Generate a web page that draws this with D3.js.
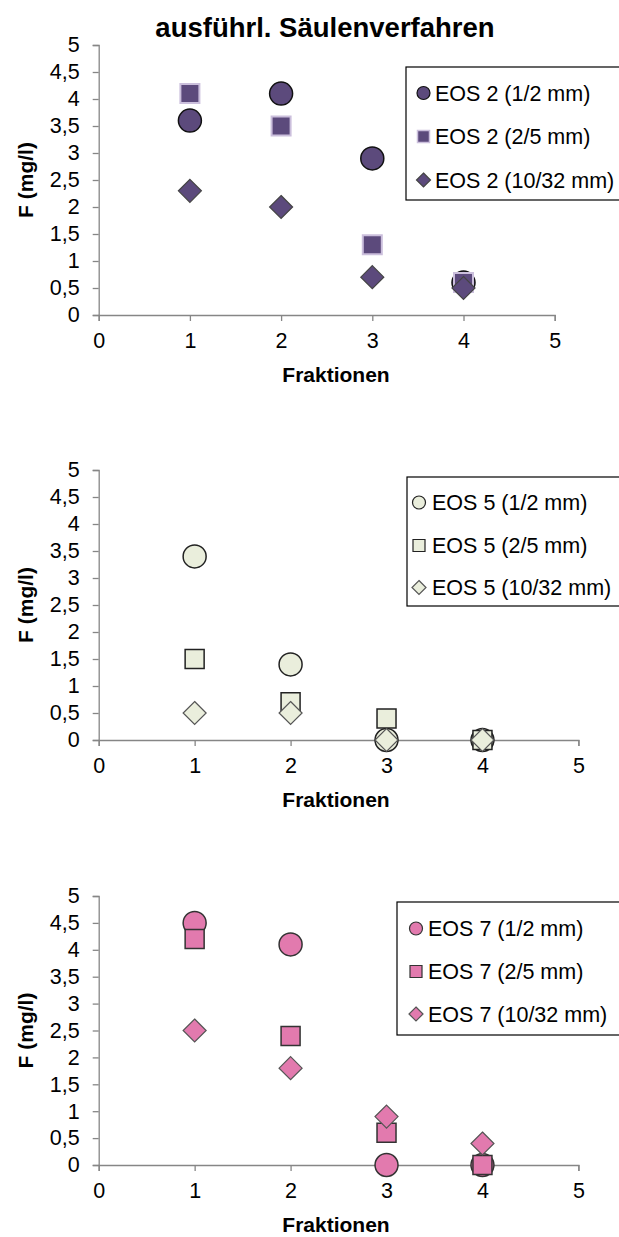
<!DOCTYPE html>
<html>
<head>
<meta charset="utf-8">
<script src="https://cdn.jsdelivr.net/npm/d3@7"></script>
<style>
  html, body { margin: 0; padding: 0; background: #fff; }
  svg { display: block; font-family: "Liberation Sans", Arial, sans-serif; }
</style>
</head>
<body>
<svg id="chart" width="619" height="1237"></svg>
<script>
// Fraction numbers on the x axis
const fractions = [1, 2, 3, 4];
const xTickValues = [0, 1, 2, 3, 4, 5];
const yTickValues = [0, 0.5, 1, 1.5, 2, 2.5, 3, 3.5, 4, 4.5, 5];

// Grain-size classes (legend suffixes)
const grainSizes = ["(1/2 mm)", "(2/5 mm)", "(10/32 mm)"];

// Fluoride concentration F (mg/l) per fraction — EOS 2
const eos2_1_2 = [3.6, 4.1, 2.9, 0.6];
const eos2_2_5 = [4.1, 3.5, 1.3, 0.6];
const eos2_10_32 = [2.3, 2.0, 0.7, 0.5];

// EOS 5
const eos5_1_2 = [3.4, 1.4, 0, 0];
const eos5_2_5 = [1.5, 0.7, 0.4, 0];
const eos5_10_32 = [0.5, 0.5, 0, 0];

// EOS 7
const eos7_1_2 = [4.5, 4.1, 0, 0];
const eos7_2_5 = [4.2, 2.4, 0.6, 0];
const eos7_10_32 = [2.5, 1.8, 0.9, 0.4];

const svg = d3.select("#chart");
const axisColor = "#868686";

svg.append("text")
  .attr("x", 325).attr("y", 37)
  .attr("text-anchor", "middle")
  .attr("font-weight", "bold")
  .attr("font-size", 27.5)
  .text("ausführl. Säulenverfahren");

const panels = [
  {
    name: "EOS 2",
    series: [eos2_1_2, eos2_2_5, eos2_10_32],
    left: 98.7, right: 554.7, top: 45, bottom: 315,
    fill: "#5c4a7c",
    strokes: ["#111", "#cbbfdc", "#444"],
    strokeWidths: [1.5, 2, 1.2],
    legend: { x: 406, y: 67, h: 133, rows: [93, 136.5, 180], mx: 423.5, tx: 435 }
  },
  {
    name: "EOS 5",
    series: [eos5_1_2, eos5_2_5, eos5_10_32],
    left: 98.7, right: 578.4, top: 470, bottom: 740,
    fill: "#eaeedc",
    strokes: ["#222", "#222", "#555"],
    strokeWidths: [1.5, 1.5, 1.2],
    legend: { x: 407, y: 477, h: 129, rows: [502.5, 545.5, 587.5], mx: 419, tx: 432 }
  },
  {
    name: "EOS 7",
    series: [eos7_1_2, eos7_2_5, eos7_10_32],
    left: 98.7, right: 578.4, top: 896, bottom: 1165,
    fill: "#e27aae",
    strokes: ["#333", "#333", "#555"],
    strokeWidths: [1.5, 1.5, 1.2],
    legend: { x: 397, y: 902, h: 133, rows: [928.5, 971.5, 1014], mx: 416, tx: 428 }
  }
];

// Marker shapes: circle, square, diamond (big = plot marker, small = legend key)
const circleBig = d3.symbol().type(d3.symbolCircle).size(Math.PI * 11.5 * 11.5);
const circleSmall = d3.symbol().type(d3.symbolCircle).size(Math.PI * 6.5 * 6.5);
const squareBig = d3.symbol().type(d3.symbolSquare).size(19 * 19);
const squareSmall = d3.symbol().type(d3.symbolSquare).size(12 * 12);
function diamondPath(r) {
  return `M0,${-r}L${r},0L0,${r}L${-r},0Z`;
}
function markerPath(i, big) {
  if (i === 0) return big ? circleBig() : circleSmall();
  if (i === 1) return big ? squareBig() : squareSmall();
  return diamondPath(big ? 11.5 : 7);
}

const commaFormat = d => String(d).replace(".", ",");

panels.forEach(p => {
  const x = d3.scaleLinear().domain([0, 5]).range([p.left, p.right]);
  const y = d3.scaleLinear().domain([0, 5]).range([p.bottom, p.top]);
  const g = svg.append("g");

  const xAxis = g.append("g")
    .attr("transform", `translate(0,${p.bottom})`)
    .call(d3.axisBottom(x).tickValues(xTickValues).tickFormat(d3.format("d"))
      .tickSize(6).tickPadding(12).tickSizeOuter(6));
  const yAxis = g.append("g")
    .attr("transform", `translate(${p.left},0)`)
    .call(d3.axisLeft(y).tickValues(yTickValues).tickFormat(commaFormat)
      .tickSize(6).tickPadding(13).tickSizeOuter(6));

  [xAxis, yAxis].forEach(a => {
    a.select(".domain").attr("stroke", axisColor).attr("stroke-width", 1.3);
    a.selectAll(".tick line").attr("stroke", axisColor).attr("stroke-width", 1.3);
    a.selectAll(".tick text").attr("fill", "#000").attr("font-size", 21.5)
      .attr("font-family", "Liberation Sans, Arial, sans-serif");
  });

  // Axis titles
  g.append("text")
    .attr("x", 336)
    .attr("y", p.bottom + 67)
    .attr("text-anchor", "middle")
    .attr("font-weight", "bold").attr("font-size", 21)
    .text("Fraktionen");
  g.append("text")
    .attr("transform", `translate(33,${(p.top + p.bottom) / 2}) rotate(-90)`)
    .attr("text-anchor", "middle")
    .attr("font-weight", "bold").attr("font-size", 21)
    .text("F (mg/l)");

  // Data markers, drawn series by series so later series sit on top
  p.series.forEach((vals, si) => {
    g.append("g").selectAll("path")
      .data(vals.map((v, i) => ({ f: fractions[i], v })))
      .join("path")
      .attr("transform", d => `translate(${x(d.f)},${y(d.v)})`)
      .attr("d", markerPath(si, true))
      .attr("fill", p.fill)
      .attr("stroke", p.strokes[si])
      .attr("stroke-width", p.strokeWidths[si]);
  });

  // Legend
  const L = p.legend;
  g.append("rect")
    .attr("x", L.x).attr("y", L.y)
    .attr("width", 640 - L.x).attr("height", L.h)
    .attr("fill", "#fff").attr("stroke", "#000").attr("stroke-width", 1.2);
  grainSizes.forEach((gs, si) => {
    g.append("path")
      .attr("transform", `translate(${L.mx},${L.rows[si]})`)
      .attr("d", markerPath(si, false))
      .attr("fill", p.fill)
      .attr("stroke", p.strokes[si])
      .attr("stroke-width", si === 1 && p.name === "EOS 2" ? 1.5 : 1.2);
    g.append("text")
      .attr("x", L.tx).attr("y", L.rows[si] + 7.5)
      .attr("font-size", 21.5)
      .text(`${p.name} ${gs}`);
  });
});
</script>
</body>
</html>
